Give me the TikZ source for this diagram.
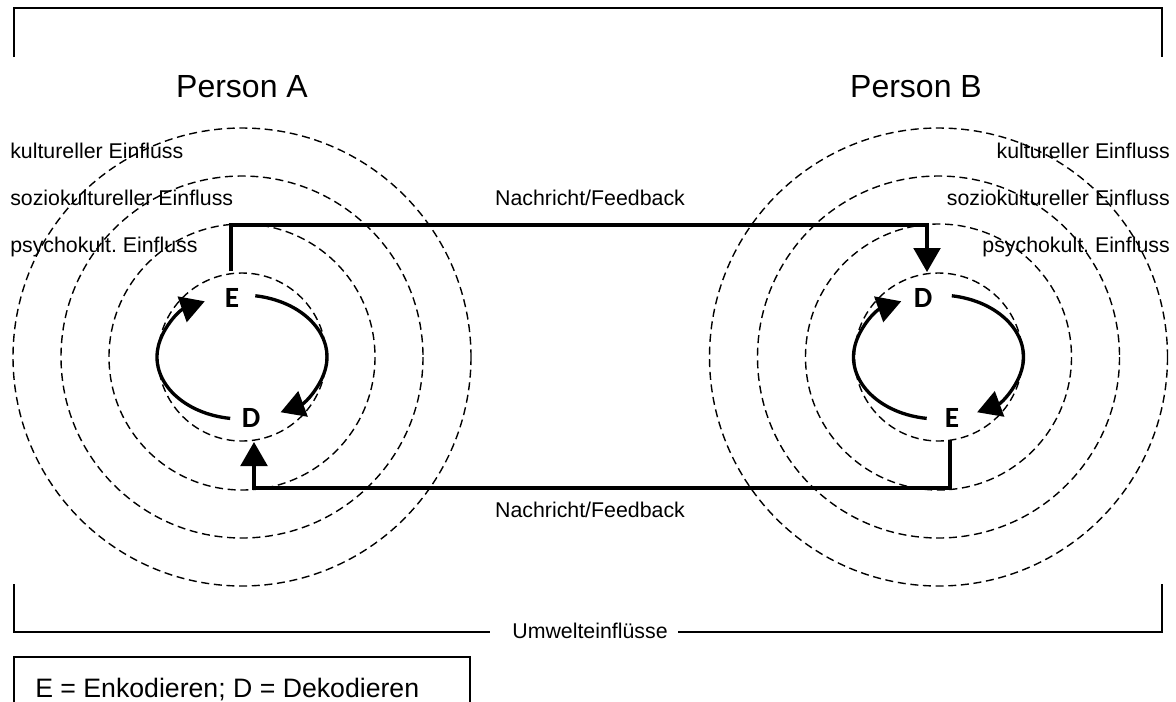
\documentclass[tikz,border=0pt]{standalone}
\usepackage{fontspec}
\setmainfont{Liberation Sans}
\newfontfamily\edfont{Carlito}
\usetikzlibrary{arrows.meta,calc}
\begin{document}
\begin{tikzpicture}[x=0.75pt,y=-0.75pt,
  ring/.style={draw, dash pattern=on 6pt off 3.5pt, line width=1.05pt},
  flow/.style={line width=2.5pt, line join=miter},
  tipped/.style={-{Triangle[length=18pt,width=20pt]}},
  frame/.style={line width=1.1pt},
  lbl/.style={font=\fontsize{16}{18}\selectfont, inner sep=0pt},
  title/.style={font=\fontsize{24}{28}\selectfont, inner sep=0pt, anchor=base},
  ed/.style={font=\edfont\bfseries\fontsize{22}{24}\selectfont, inner sep=0pt},
]
\useasboundingbox (0,0) rectangle (1176,701);

% frame
\draw[frame] (14,57) -- (14,8) -- (1162,8) -- (1162,57);
\node[lbl, anchor=base] (um) at (590,638) {Umwelteinflüsse};
\coordinate (bl) at (14,584);
\coordinate (br) at (1162,584);
\draw[frame] (bl) -- (14,632) -- (490,632);
\draw[frame] (678,632) -- (1162,632) -- (br);

% legend
\draw[frame] (14,712) -- (14,657) -- (470,657) -- (470,712);
\node[font=\fontsize{20}{24}\selectfont, inner sep=0pt, anchor=base west] (leg) at (35,697) {E = Enkodieren; D = Dekodieren};

% titles
\node[title] (pA) at (242,97) {Person A};
\node[title] (pB) at (916,97) {Person B};

% circles
\coordinate (cA) at (242,357);
\coordinate (cB) at (938.5,357);
\foreach \r in {84,133,181,229} {
  \draw[ring] (cA) circle[radius=\r];
  \draw[ring] (cB) circle[radius=\r];
}

% influence labels
\node[lbl, anchor=base west] (kA) at (10,158) {kultureller Einfluss};
\node[lbl, anchor=base west] (sA) at (10,205) {soziokultureller Einfluss};
\node[lbl, anchor=base west] (psA) at (10,252) {psychokult.\ Einfluss};
\node[lbl, anchor=base east] (kB) at (1170,158) {kultureller Einfluss};
\node[lbl, anchor=base east] (sB) at (1170,205) {soziokultureller Einfluss};
\node[lbl, anchor=base east] (psB) at (1170,252) {psychokult.\ Einfluss};

% message labels
\node[lbl, anchor=base] (m1) at (590,205) {Nachricht/Feedback};
\node[lbl, anchor=base] (m2) at (590,517) {Nachricht/Feedback};

% E / D
\node[ed] (EA) at (232,298) {E};
\node[ed] (DA) at (251,418) {D};
\node[ed] (DB) at (923,298) {D};
\node[ed] (EB) at (952,418) {E};

% message flow
\coordinate (outA) at (231,271);
\coordinate (kinkB) at (927,225);
\coordinate (inB) at (927,272);
\draw[flow, tipped] (outA) |- (kinkB) -- (inB);
\coordinate (outB) at (950,440);
\coordinate (kinkA) at (950,488);
\coordinate (inA) at (254,442);
\draw[flow, tipped] (outB) -- (kinkA) -| (inA);

% loops
\foreach \c in {cA,cB} {
  \draw[flow, tipped] ($(\c)+(-81:85 and 62)$) arc[start angle=-81,end angle=63,x radius=85,y radius=62];
  \draw[flow, tipped] ($(\c)+(98:85 and 62)$) arc[start angle=98,end angle=244,x radius=85,y radius=62];
}
\end{tikzpicture}
\end{document}
